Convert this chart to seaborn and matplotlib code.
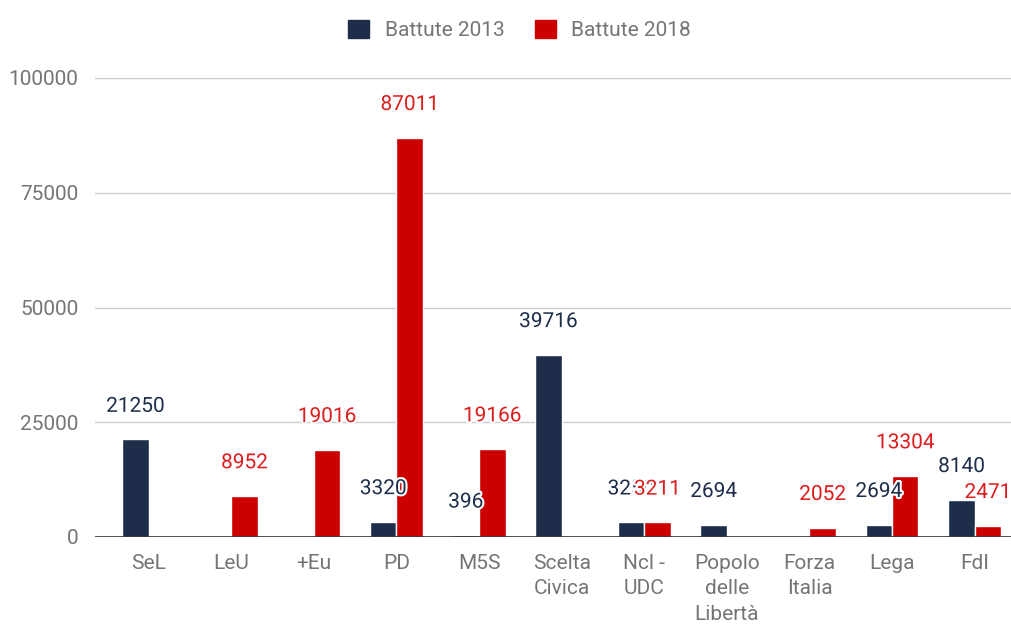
import numpy as np
import pandas as pd
import seaborn as sns
import matplotlib.pyplot as plt
import matplotlib.patches as mpatches
import matplotlib.patheffects as pe

sns.set_style("white")
plt.rcParams['font.family'] = ['Roboto', 'DejaVu Sans']

PARTIES = ['SeL', 'LeU', '+Eu', 'PD', 'M5S', 'Scelta\nCivica', 'Ncl -\nUDC',
           'Popolo\ndelle\nLibertà', 'Forza\nItalia', 'Lega', 'FdI']
BATTUTE_2013 = [21250, np.nan, np.nan, 3320, 396, 39716, 3250, 2694, np.nan, 2694, 8140]
BATTUTE_2018 = [np.nan, 8952, 19016, 87011, 19166, np.nan, 3211, np.nan, 2052, 13304, 2471]
SERIES = ['Battute 2013', 'Battute 2018']
Y_TICKS = [0, 25000, 50000, 75000, 100000]

COLORS = {'Battute 2013': '#1e2e4a', 'Battute 2018': '#cc0000'}
LABEL_COLORS = {'Battute 2013': '#1e2e4a', 'Battute 2018': '#dd1c1c'}
GREY = '#757575'

df = pd.DataFrame({'Party': PARTIES * 2,
                   'Series': [SERIES[0]] * len(PARTIES) + [SERIES[1]] * len(PARTIES),
                   'Value': BATTUTE_2013 + BATTUTE_2018})

fig = plt.figure(figsize=(10.11, 6.25), dpi=100)
ax = fig.add_axes([95 / 1011, 1 - 537 / 625, 1 - 95 / 1011, (537 - 78) / 625])

sns.barplot(data=df.dropna(), x='Party', y='Value', hue='Series', order=PARTIES,
            hue_order=SERIES, palette=COLORS, saturation=1, width=0.64, gap=0.0,
            ax=ax, legend=False, zorder=3)

for cont, name in zip(ax.containers, SERIES):
    labels = [f"{b.get_height():.0f}" for b in cont]
    txts = ax.bar_label(cont, labels=labels, padding=17, fontsize=15,
                        color=LABEL_COLORS[name], clip_on=False)
    for t in txts:
        t.set_path_effects([pe.withStroke(linewidth=3, foreground='white')])
        t.set_zorder(5)

ax.set_ylim(0, 100000)
ax.set_xlim(-0.65, 10.44)
ax.set_yticks(Y_TICKS)
ax.set_yticklabels([str(v) for v in Y_TICKS])
ax.yaxis.grid(True, color='#cccccc', linewidth=1, zorder=0)
ax.axhline(0, color='#333333', linewidth=1.2, zorder=4)
ax.tick_params(axis='both', length=0, labelsize=15, labelcolor=GREY)
ax.tick_params(axis='y', pad=12)
ax.tick_params(axis='x', pad=12)
for lbl in ax.get_xticklabels():
    lbl.set_linespacing(1.45)
    lbl.set_verticalalignment('top')
ax.set_xlabel('')
ax.set_ylabel('')
sns.despine(ax=ax, left=True, bottom=True)

handles = [mpatches.Patch(facecolor=COLORS[s], edgecolor=COLORS[s], label=s) for s in SERIES]
fig.legend(handles=handles, loc='center', bbox_to_anchor=(0.514, 1 - 30 / 625), ncol=2,
           frameon=False, fontsize=15, labelcolor=GREY, handlelength=1.0,
           handleheight=1.0, handletextpad=0.75, columnspacing=1.45)

fig.savefig('out.png', dpi=100)
